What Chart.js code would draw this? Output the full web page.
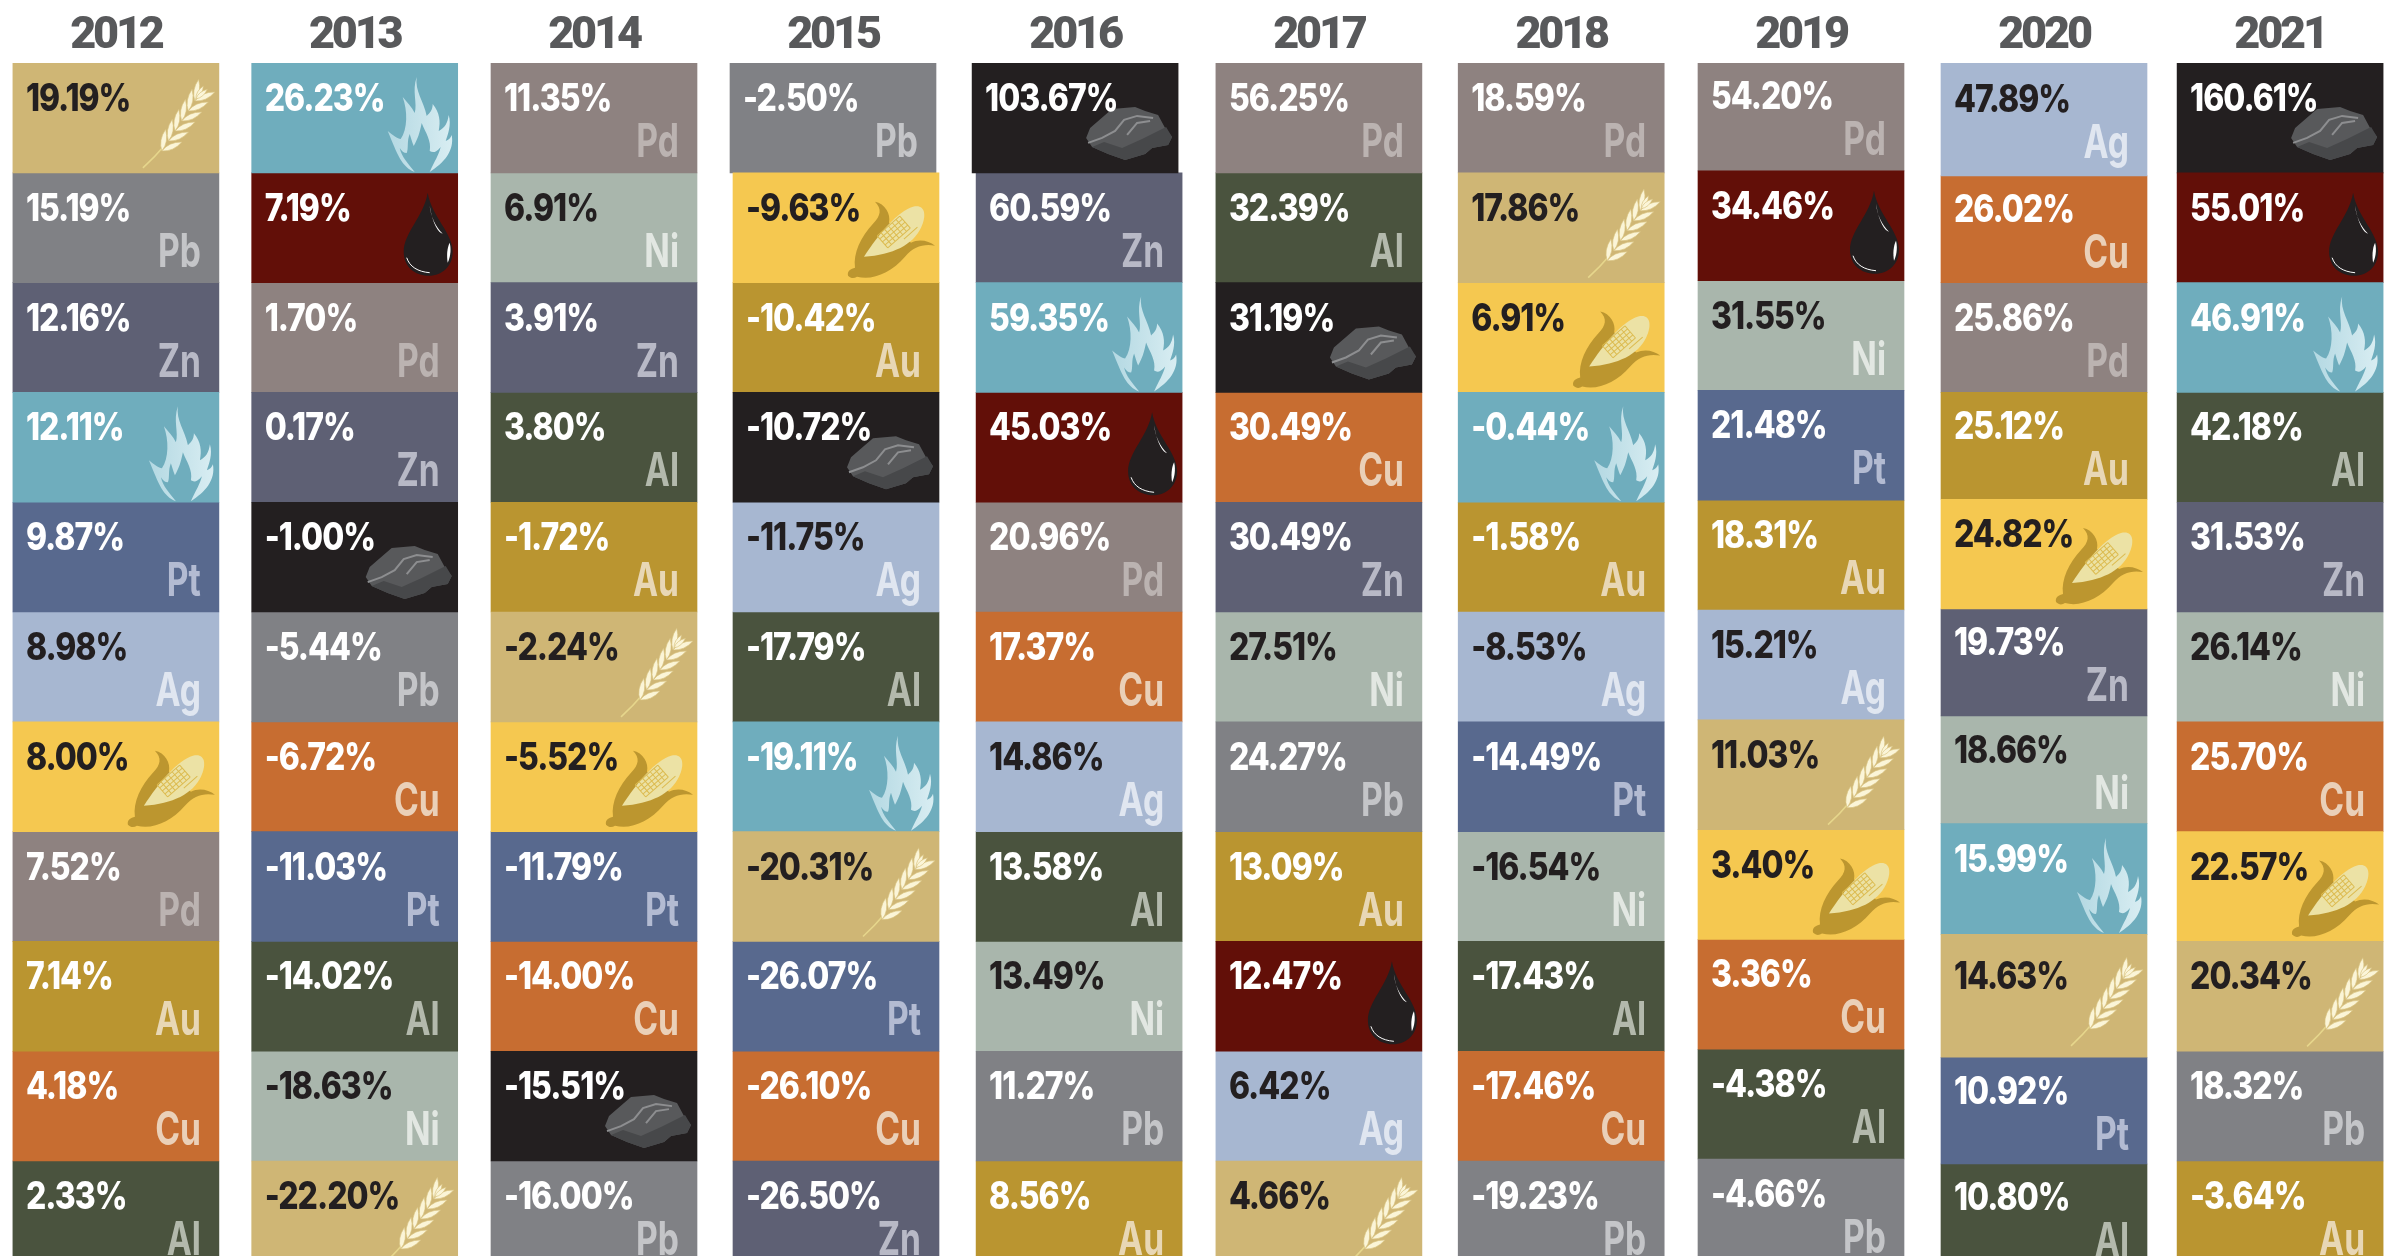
<!DOCTYPE html>
<html>
<head>
<meta charset="utf-8">
<title>Commodity returns 2012-2021</title>
<script src="https://cdn.jsdelivr.net/npm/chart.js@4/dist/chart.umd.js"></script>
<style>
  html, body { margin: 0; padding: 0; background: #fff; overflow: hidden; }
  canvas { display: block; }
</style>
</head>
<body>
<canvas id="returnsChart" width="2398" height="1256"></canvas>
<script>
const years = ['2012', '2013', '2014', '2015', '2016', '2017', '2018', '2019', '2020', '2021'];

// each year, best to worst
const ranked2012 = ['Wheat', 'Pb', 'Zn', 'Gas', 'Pt', 'Ag', 'Corn', 'Pd', 'Au', 'Cu', 'Al'];
const returns2012 = [19.19, 15.19, 12.16, 12.11, 9.87, 8.98, 8.00, 7.52, 7.14, 4.18, 2.33];
const ranked2013 = ['Gas', 'Oil', 'Pd', 'Zn', 'Coal', 'Pb', 'Cu', 'Pt', 'Al', 'Ni', 'Wheat'];
const returns2013 = [26.23, 7.19, 1.70, 0.17, -1.00, -5.44, -6.72, -11.03, -14.02, -18.63, -22.20];
const ranked2014 = ['Pd', 'Ni', 'Zn', 'Al', 'Au', 'Wheat', 'Corn', 'Pt', 'Cu', 'Coal', 'Pb'];
const returns2014 = [11.35, 6.91, 3.91, 3.80, -1.72, -2.24, -5.52, -11.79, -14.00, -15.51, -16.00];
const ranked2015 = ['Pb', 'Corn', 'Au', 'Coal', 'Ag', 'Al', 'Gas', 'Wheat', 'Pt', 'Cu', 'Zn'];
const returns2015 = [-2.50, -9.63, -10.42, -10.72, -11.75, -17.79, -19.11, -20.31, -26.07, -26.10, -26.50];
const ranked2016 = ['Coal', 'Zn', 'Gas', 'Oil', 'Pd', 'Cu', 'Ag', 'Al', 'Ni', 'Pb', 'Au'];
const returns2016 = [103.67, 60.59, 59.35, 45.03, 20.96, 17.37, 14.86, 13.58, 13.49, 11.27, 8.56];
const ranked2017 = ['Pd', 'Al', 'Coal', 'Cu', 'Zn', 'Ni', 'Pb', 'Au', 'Oil', 'Ag', 'Wheat'];
const returns2017 = [56.25, 32.39, 31.19, 30.49, 30.49, 27.51, 24.27, 13.09, 12.47, 6.42, 4.66];
const ranked2018 = ['Pd', 'Wheat', 'Corn', 'Gas', 'Au', 'Ag', 'Pt', 'Ni', 'Al', 'Cu', 'Pb'];
const returns2018 = [18.59, 17.86, 6.91, -0.44, -1.58, -8.53, -14.49, -16.54, -17.43, -17.46, -19.23];
const ranked2019 = ['Pd', 'Oil', 'Ni', 'Pt', 'Au', 'Ag', 'Wheat', 'Corn', 'Cu', 'Al', 'Pb'];
const returns2019 = [54.20, 34.46, 31.55, 21.48, 18.31, 15.21, 11.03, 3.40, 3.36, -4.38, -4.66];
const ranked2020 = ['Ag', 'Cu', 'Pd', 'Au', 'Corn', 'Zn', 'Ni', 'Gas', 'Wheat', 'Pt', 'Al'];
const returns2020 = [47.89, 26.02, 25.86, 25.12, 24.82, 19.73, 18.66, 15.99, 14.63, 10.92, 10.80];
const ranked2021 = ['Coal', 'Oil', 'Gas', 'Al', 'Zn', 'Ni', 'Cu', 'Corn', 'Wheat', 'Pb', 'Au'];
const returns2021 = [160.61, 55.01, 46.91, 42.18, 31.53, 26.14, 25.70, 22.57, 20.34, 18.32, -3.64];

const rankings = [ranked2012, ranked2013, ranked2014, ranked2015, ranked2016, ranked2017, ranked2018, ranked2019, ranked2020, ranked2021];
const returnsByYear = [returns2012, returns2013, returns2014, returns2015, returns2016, returns2017, returns2018, returns2019, returns2020, returns2021];

const commodities = ['Wheat', 'Gas', 'Oil', 'Coal', 'Corn', 'Pb', 'Zn', 'Pt', 'Ag', 'Au', 'Cu', 'Pd', 'Al', 'Ni'];
const cellColors = {
    Wheat: '#cfb675', Gas: '#6fadbd', Oil: '#620f08', Coal: '#231f20', Corn: '#f5c850',
    Pb: '#808185', Zn: '#5e6074', Pt: '#58698e', Ag: '#a7b7d1', Au: '#ba9530',
    Cu: '#c76d31', Pd: '#8e8280', Al: '#4a533e', Ni: '#a9b6ac'
};
const symbolColors = {
    Pb: '#c4c5c8', Zn: '#b8b9c6', Pt: '#b3bbd2', Ag: '#e0e6f0', Au: '#e8d7b5',
    Cu: '#ead0b8', Pd: '#bbb3b1', Al: '#b3b9ac', Ni: '#e2e7e2'
};
const darkText = ['Wheat', 'Corn', 'Ag', 'Ni'];

// the source columns are not evenly spaced, small corrections in px
const colNudge = [-4, -5, -5.5, -6.3, -4, 0, 2.5, 2.5, 5.7, 2];
const lowerRowsNudge = [0, 0, 0, 3, 4, 0, 0, 0, 0, 0];
const edgeNudge2019 = [-2, -2, -2, -2, -2, -2, -2, -2, -2, -2, -2, -2];
const edgeNudge2020 = [0, 3, 0, 0, -3, -3, -6, -8, -7, 6, 3, 0];

class NudgedCategoryScale extends Chart.CategoryScale {
    static id = 'nudgedCategory';
    static defaults = Chart.CategoryScale.defaults;
    getPixelForValue(value) {
        const idx = typeof value === 'number' ? value : this.parse(value);
        return super.getPixelForValue(value) + (colNudge[idx] || 0);
    }
}
Chart.register(NudgedCategoryScale);

// icons are drawn in cell coordinates, the cell is 206 wide
function drawWheat(ctx) {
    ctx.strokeStyle = '#e6d68c';
    ctx.lineWidth = 1.6;
    ctx.beginPath();
    ctx.moveTo(130, 105);
    ctx.quadraticCurveTo(142, 94, 152, 82);
    ctx.stroke();
    const grad = ctx.createLinearGradient(145, 95, 195, 25);
    grad.addColorStop(0, '#fbf5d8');
    grad.addColorStop(0.5, '#f4e8b4');
    grad.addColorStop(1, '#efe0a0');
    ctx.fillStyle = grad;
    const grain = (x, y, angle, len, wide) => {
        ctx.save();
        ctx.translate(x, y);
        ctx.rotate(angle);
        ctx.beginPath();
        ctx.moveTo(0, 0);
        ctx.quadraticCurveTo(len * 0.45, -wide, len, 0);
        ctx.quadraticCurveTo(len * 0.45, wide, 0, 0);
        ctx.fill();
        ctx.strokeStyle = '#d8c27e';
        ctx.lineWidth = 0.6;
        ctx.stroke();
        ctx.restore();
    };
    for (let i = 0; i < 6; i++) {
        const x = 149 + i * 6.6;
        const y = 88 - i * 10;
        grain(x, y, -1.4, 22, 5.5);
        grain(x, y, -0.42, 22, 5.5);
    }
    grain(183, 36, -1.05, 15, 4);
    grain(183, 36, -0.7, 15, 4);
}

function drawFlame(ctx) {
    const grad = ctx.createLinearGradient(135, 60, 200, 60);
    grad.addColorStop(0, '#b3d8e2');
    grad.addColorStop(1, '#d8edf2');
    ctx.fillStyle = grad;
    ctx.beginPath();
    ctx.moveTo(165, 14);
    ctx.bezierCurveTo(163, 28, 172, 38, 175, 53);
    ctx.bezierCurveTo(178, 50, 181, 47, 181, 41);
    ctx.bezierCurveTo(188, 50, 189, 58, 187, 68);
    ctx.bezierCurveTo(193, 65, 196, 60, 197, 52);
    ctx.bezierCurveTo(200, 62, 196, 72, 194, 78);
    ctx.bezierCurveTo(197, 77, 199, 75, 200, 72);
    ctx.bezierCurveTo(203, 88, 192, 100, 178, 109);
    ctx.bezierCurveTo(183, 98, 187, 92, 189, 84);
    ctx.bezierCurveTo(184, 90, 181, 90, 178, 88);
    ctx.bezierCurveTo(180, 78, 174, 70, 170, 60);
    ctx.bezierCurveTo(168, 70, 166, 76, 162, 83);
    ctx.bezierCurveTo(160, 78, 159, 74, 158, 71);
    ctx.bezierCurveTo(155, 78, 157, 86, 155, 90);
    ctx.bezierCurveTo(152, 90, 150, 88, 148, 85);
    ctx.bezierCurveTo(150, 94, 156, 100, 163, 109);
    ctx.bezierCurveTo(150, 104, 146, 92, 136, 68);
    ctx.bezierCurveTo(141, 72, 146, 76, 149, 76);
    ctx.bezierCurveTo(156, 66, 156, 48, 151, 34);
    ctx.bezierCurveTo(156, 40, 160, 44, 163, 50);
    ctx.bezierCurveTo(166, 40, 160, 28, 165, 14);
    ctx.closePath();
    ctx.fill();
}

function drawDrop(ctx) {
    ctx.fillStyle = '#231f20';
    ctx.beginPath();
    ctx.moveTo(176, 20);
    ctx.bezierCurveTo(172, 44, 152, 60, 152, 79);
    ctx.bezierCurveTo(152, 94, 163, 103, 177, 103);
    ctx.bezierCurveTo(191, 103, 201, 93, 201, 79);
    ctx.bezierCurveTo(201, 60, 180, 44, 176, 20);
    ctx.closePath();
    ctx.fill();
    ctx.fillStyle = '#fff';
    ctx.beginPath();
    ctx.moveTo(178, 33);
    ctx.bezierCurveTo(179, 44, 184, 54, 191, 61);
    ctx.bezierCurveTo(187, 60, 181, 52, 178, 33);
    ctx.closePath();
    ctx.fill();
    ctx.beginPath();
    ctx.moveTo(198, 70);
    ctx.bezierCurveTo(200, 78, 198, 86, 196, 90);
    ctx.bezierCurveTo(195, 84, 195, 76, 198, 70);
    ctx.closePath();
    ctx.fill();
    ctx.strokeStyle = '#fff';
    ctx.lineWidth = 1;
    ctx.beginPath();
    ctx.moveTo(155, 85);
    ctx.bezierCurveTo(158, 94, 166, 99, 178, 100);
    ctx.stroke();
}

function polygon(ctx, pts) {
    ctx.beginPath();
    pts.forEach((p, i) => (i ? ctx.lineTo(p[0], p[1]) : ctx.moveTo(p[0], p[1])));
    ctx.closePath();
    ctx.fill();
}

function drawCoal(ctx) {
    ctx.fillStyle = '#58595b';
    polygon(ctx, [[114, 75], [118, 65], [133, 52], [140, 46], [163, 44], [173, 48], [186, 52], [193, 65], [200, 74], [196, 82], [180, 85], [173, 91], [153, 97], [136, 91], [120, 84]]);
    ctx.fillStyle = '#47484a';
    polygon(ctx, [[120, 84], [132, 79], [150, 85], [170, 76], [194, 64], [200, 74], [196, 82], [180, 85], [173, 91], [153, 97], [136, 91]]);
    ctx.strokeStyle = '#8d8e90';
    ctx.lineWidth = 2;
    ctx.beginPath();
    ctx.moveTo(116, 80);
    ctx.lineTo(130, 75);
    ctx.lineTo(143, 68);
    ctx.lineTo(152, 57);
    ctx.lineTo(165, 53);
    ctx.lineTo(181, 55);
    ctx.moveTo(155, 72);
    ctx.lineTo(165, 60);
    ctx.lineTo(178, 58);
    ctx.stroke();
}

function drawCorn(ctx) {
    ctx.fillStyle = '#bc962f';
    ctx.beginPath();
    ctx.moveTo(115, 103);
    ctx.bezierCurveTo(114, 98, 118, 96, 122, 95);
    ctx.bezierCurveTo(120, 80, 128, 64, 140, 51);
    ctx.bezierCurveTo(148, 43, 149, 36, 142, 29);
    ctx.bezierCurveTo(152, 31, 158, 41, 156, 50);
    ctx.lineTo(178, 70);
    ctx.bezierCurveTo(186, 66, 196, 68, 202, 73);
    ctx.bezierCurveTo(190, 71, 181, 74, 172, 84);
    ctx.bezierCurveTo(158, 100, 140, 108, 124, 104);
    ctx.bezierCurveTo(121, 106, 118, 106, 115, 103);
    ctx.closePath();
    ctx.fill();
    ctx.fillStyle = '#ece2a5';
    ctx.beginPath();
    ctx.moveTo(131, 84);
    ctx.bezierCurveTo(145, 62, 165, 38, 180, 34);
    ctx.bezierCurveTo(192, 31, 194, 42, 188, 55);
    ctx.bezierCurveTo(180, 72, 160, 82, 131, 84);
    ctx.closePath();
    ctx.fill();
    ctx.save();
    ctx.translate(160, 60);
    ctx.rotate(-0.72);
    ctx.strokeStyle = '#dcbb50';
    ctx.lineWidth = 1;
    ctx.beginPath();
    for (let i = 0; i < 5; i++) {
        ctx.moveTo(-14, -8 + i * 4);
        ctx.lineTo(16, -8 + i * 4);
    }
    for (let i = 0; i < 7; i++) {
        ctx.moveTo(-14 + i * 5, -8);
        ctx.lineTo(-14 + i * 5, 8);
    }
    ctx.moveTo(4, 12);
    ctx.lineTo(22, 12);
    ctx.stroke();
    ctx.restore();
}

const iconDrawers = { Wheat: drawWheat, Gas: drawFlame, Oil: drawDrop, Coal: drawCoal, Corn: drawCorn };

// move the cells that sit off the regular grid in the source
const cellNudgePlugin = {
    id: 'cellNudge',
    afterDatasetsUpdate(chart) {
        chart.data.datasets.forEach((ds, di) => {
            chart.getDatasetMeta(di).data.forEach((bar, j) => {
                const col = years.indexOf(ds.data[j].x);
                const rank = ds.data[j].y[0];
                const edges = col === 7 ? edgeNudge2019 : col === 8 ? edgeNudge2020 : null;
                if (rank > 0) bar.x += lowerRowsNudge[col];
                if (edges) {
                    const top = Math.min(bar.y, bar.base);
                    const bottom = Math.max(bar.y, bar.base);
                    bar.y = top + edges[rank];
                    bar.base = bottom + edges[rank + 1];
                    bar.height = bar.base - bar.y;
                }
            });
        });
    }
};

// no font here is as narrow as the source one
function squeezedText(ctx, text, x, y, squeeze) {
    ctx.save();
    ctx.translate(x, y);
    ctx.scale(squeeze, 1);
    ctx.fillText(text, 0, 0);
    ctx.restore();
}

const cellTextPlugin = {
    id: 'cellText',
    beforeDraw(chart) {
        chart.ctx.letterSpacing = '-3.2px';
    },
    afterDatasetsDraw(chart) {
        const ctx = chart.ctx;
        chart.data.datasets.forEach((ds, di) => {
            chart.getDatasetMeta(di).data.forEach((bar, j) => {
                const name = ds.label;
                const left = bar.x - bar.width / 2;
                const right = bar.x + bar.width / 2;
                const midY = (bar.y + bar.base) / 2;

                if (iconDrawers[name]) {
                    ctx.save();
                    ctx.translate(left, midY - 55);
                    iconDrawers[name](ctx);
                    ctx.restore();
                } else {
                    ctx.save();
                    ctx.font = '700 46px Inter';
                    ctx.letterSpacing = '0px';
                    ctx.textAlign = 'right';
                    ctx.textBaseline = 'alphabetic';
                    ctx.fillStyle = symbolColors[name];
                    squeezedText(ctx, name, right - 18, midY + 39, 0.73);
                    ctx.restore();
                }

                ctx.save();
                ctx.font = '800 38px Inter';
                ctx.letterSpacing = '-1.2px';
                ctx.textAlign = 'left';
                ctx.textBaseline = 'alphabetic';
                ctx.fillStyle = darkText.includes(name) ? '#231f20' : '#ffffff';
                squeezedText(ctx, ds.data[j].ret.toFixed(2) + '%', left + 13, midY - 7, 0.84);
                ctx.restore();
            });
        });
    },
    afterDraw(chart) {
        chart.ctx.letterSpacing = '0px';
    }
};

const datasets = commodities.map(function(name) {
    const points = [];
    years.forEach(function(year, col) {
        const rank = rankings[col].indexOf(name);
        if (rank >= 0) points.push({ x: year, y: [rank, rank + 1], ret: returnsByYear[col][rank] });
    });
    return {
        label: name,
        data: points,
        backgroundColor: cellColors[name],
        borderWidth: 0,
        barThickness: 206,
        barPercentage: 1,
        categoryPercentage: 1,
        grouped: false
    };
});

new Chart(document.getElementById('returnsChart').getContext('2d'), {
    type: 'bar',
    data: { labels: years, datasets: datasets },
    plugins: [cellNudgePlugin, cellTextPlugin],
    options: {
        responsive: false,
        animation: false,
        events: [],
        layout: { padding: 0 },
        plugins: {
            legend: { display: false },
            title: { display: false },
            tooltip: { enabled: false }
        },
        scales: {
            x: {
                type: 'nudgedCategory',
                position: 'top',
                offset: true,
                grid: { display: false, drawTicks: false },
                border: { display: false },
                afterFit: function(scale) { scale.height = 63; },
                ticks: {
                    color: '#58595b',
                    font: { family: 'Roboto', size: 45, weight: '900' },
                    padding: -1,
                    maxRotation: 0,
                    autoSkip: false
                }
            },
            y: {
                type: 'linear',
                display: false,
                reverse: true,
                min: 0,
                max: 10.865
            }
        }
    }
});
</script>
</body>
</html>
